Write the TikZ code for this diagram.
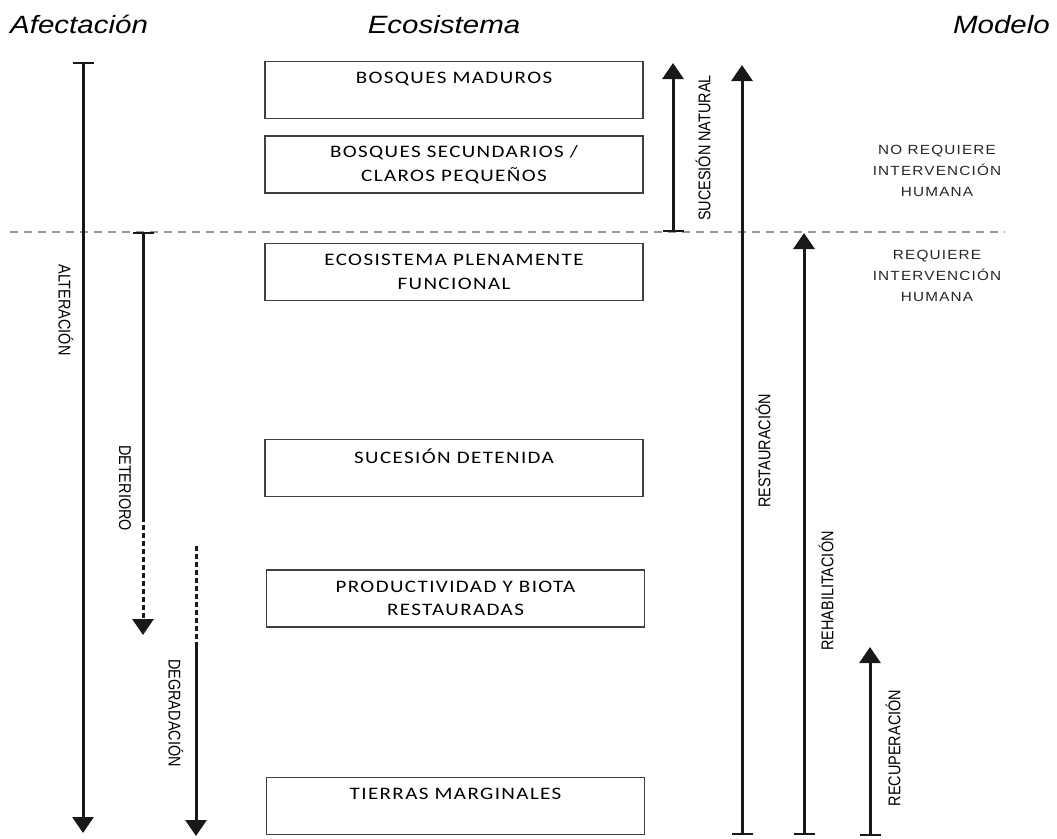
\documentclass[tikz,border=0pt]{standalone}
\usepackage{fontspec}
\usetikzlibrary{arrows.meta}
\newfontfamily\titlefont[FakeStretch=1.18]{Liberation Sans}
\newfontfamily\boxfont[FakeStretch=1.2,LetterSpace=8]{Carlito}
\newfontfamily\sidefont[FakeStretch=1.15,LetterSpace=9]{Liberation Sans}
\newfontfamily\rotfont[FakeStretch=0.85]{Liberation Sans}
\begin{document}
\begin{tikzpicture}[x=1pt,y=-1pt,
  title/.style={font=\titlefont\itshape\fontsize{25}{28}\selectfont, inner sep=0},
  ecobox/.style={draw=black!75, line width=1.4pt, minimum width=378pt, minimum height=57pt,
    inner sep=0, align=center, font=\boxfont\fontsize{17.5}{23.5}\selectfont},
  rotlab/.style={font=\rotfont\fontsize{17}{20}\selectfont, inner sep=0},
  sidelab/.style={font=\sidefont\fontsize{13.3}{21}\selectfont, align=center, inner sep=0, text=black!85},
  flow/.style={line width=3pt, draw=black!90},
  tip/.style={-{Triangle[width=21pt,length=16pt]}},
  teetip/.style={{Bar[width=21pt,line width=2.2pt]}-{Triangle[width=21pt,length=16pt]}},
  teeonly/.style={{Bar[width=21pt,line width=2.2pt]}-},
  dashpart/.style={dash pattern=on 5pt off 3pt},
  limit/.style={draw=black!40, line width=2pt, dash pattern=on 8pt off 6pt}
]
\useasboundingbox (0,0) rectangle (1057,838);

% titles
\node[title, anchor=base west] (tA) at (10,33) {Afectación};
\node[title, anchor=base] (tE) at (444,33) {Ecosistema};
\node[title, anchor=base east] (tM) at (1050,33) {Modelo};

% limit line
\coordinate (L1) at (10,232);
\coordinate (L2) at (1005,232);
\draw[limit] (L1) -- (L2);

% ecosystem boxes
\node[ecobox] (b1) at (454,90) {BOSQUES MADUROS\\ \mbox{}};
\node[ecobox] (b2) at (454,164.5) {BOSQUES SECUNDARIOS /\\ CLAROS PEQUEÑOS};
\node[ecobox] (b3) at (454,272) {ECOSISTEMA PLENAMENTE\\ FUNCIONAL};
\node[ecobox] (b4) at (454,468) {SUCESIÓN DETENIDA\\ \mbox{}};
\node[ecobox] (b5) at (455.5,598.5) {PRODUCTIVIDAD Y BIOTA\\ RESTAURADAS};
\node[ecobox] (b6) at (455.5,806) {TIERRAS MARGINALES\\ \mbox{}};

% Alteracion
\coordinate (alt1) at (83,62);
\coordinate (alt2) at (83,833);
\draw[flow, teetip] (alt1) -- (alt2);
\node[rotlab, rotate=-90] (altL) at (66,310) {ALTERACIÓN};

% Deterioro
\coordinate (det1) at (143,232);
\coordinate (det2) at (143,517);
\coordinate (det3) at (143,635);
\draw[flow, teeonly] (det1) -- (det2);
\draw[flow, dashpart, tip] (det2) -- (det3);
\node[rotlab, rotate=-90] (detL) at (125,488) {DETERIORO};

% Degradacion
\coordinate (deg1) at (196,546);
\coordinate (deg2) at (196,647);
\coordinate (deg3) at (196,836);
\draw[flow, dashpart] (deg1) -- (deg2);
\draw[flow, tip] (deg2) -- (deg3);
\node[rotlab, rotate=-90] (degL) at (176,713) {DEGRADACIÓN};

% Sucesion natural
\coordinate (suc1) at (673,232);
\coordinate (suc2) at (673,63);
\draw[flow, teetip] (suc1) -- (suc2);
\node[rotlab, rotate=90] (sucL) at (703,148) {SUCESIÓN NATURAL};

% Restauracion
\coordinate (res1) at (742,835);
\coordinate (res2) at (742,65);
\draw[flow, teetip] (res1) -- (res2);
\node[rotlab, rotate=90] (resL) at (763,451) {RESTAURACIÓN};

% Rehabilitacion
\coordinate (reh1) at (804,835);
\coordinate (reh2) at (804,233);
\draw[flow, teetip] (reh1) -- (reh2);
\node[rotlab, rotate=90] (rehL) at (826,591) {REHABILITACIÓN};

% Recuperacion
\coordinate (rec1) at (870,836);
\coordinate (rec2) at (870,647);
\draw[flow, teetip] (rec1) -- (rec2);
\node[rotlab, rotate=90] (recL) at (893,748) {RECUPERACIÓN};

% model texts
\node[sidelab] (noreq) at (937,171) {NO REQUIERE\\ INTERVENCIÓN\\ HUMANA};
\node[sidelab] (req) at (937,276) {REQUIERE\\ INTERVENCIÓN\\ HUMANA};
\end{tikzpicture}
\end{document}
